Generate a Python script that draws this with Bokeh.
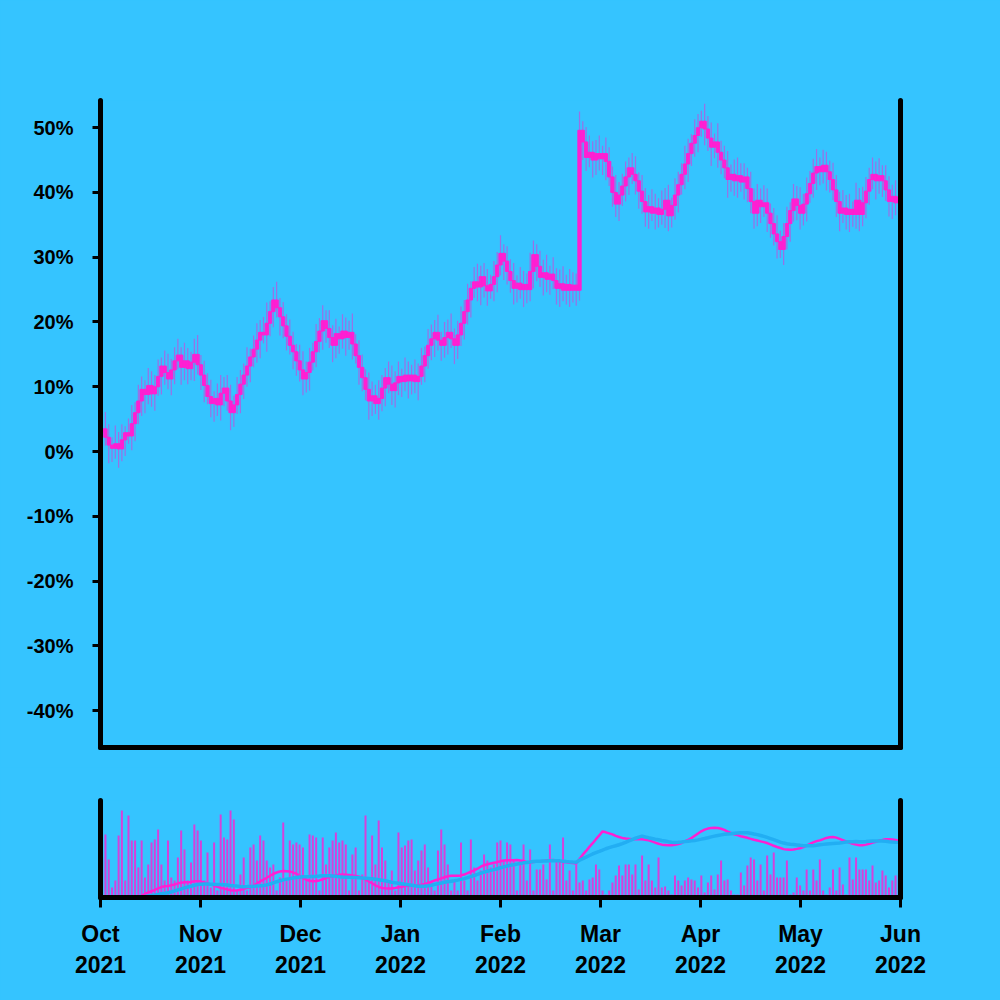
import pandas as pd
from bokeh.plotting import figure
from bokeh.models import Range1d, LinearAxis, FixedTicker, PrintfTickFormatter
from bokeh.layouts import column
from bokeh.embed import file_html
from bokeh.resources import INLINE

# ---------------- data ----------------
month_labels = ["Oct\n2021", "Nov\n2021", "Dec\n2021", "Jan\n2022", "Feb\n2022",
                "Mar\n2022", "Apr\n2022", "May\n2022", "Jun\n2022"]
y_ticks = [-40, -30, -20, -10, 0, 10, 20, 30, 40, 50]

first_open = 3.0
close = [
    3.5, 2.2, 1.0, 0.5, 1.2, 0.4, 1.8, 2.9, 2.4, 4.3,
    6.0, 7.8, 9.6, 8.8, 10.2, 8.9, 10.0, 11.6, 13.2, 12.2,
    11.2, 12.6, 14.0, 14.9, 13.0, 14.0, 12.8, 13.8, 15.0, 13.4,
    11.8, 10.2, 8.5, 7.4, 8.2, 7.2, 9.0, 9.8, 7.8, 6.0,
    7.2, 8.8, 10.4, 11.8, 13.2, 14.6, 15.8, 17.2, 18.4, 18.0,
    19.8, 21.6, 23.4, 22.2, 20.8, 19.4, 17.8, 16.4, 15.4, 14.0,
    12.6, 11.2, 12.2, 13.8, 15.4, 17.0, 18.6, 20.2, 19.0, 17.6,
    16.4, 18.2, 17.4, 18.6, 17.6, 18.4, 16.6, 14.8, 13.0, 11.4,
    9.6, 7.8, 8.6, 7.4, 8.2, 9.8, 11.4, 10.4, 9.4, 10.6,
    11.6, 10.8, 11.8, 10.9, 11.8, 10.8, 11.6, 13.2, 14.8, 16.4,
    17.4, 18.4, 17.2, 16.4, 17.6, 18.4, 17.4, 16.4, 18.0, 19.8,
    21.6, 23.4, 25.2, 26.2, 25.4, 27.0, 25.6, 24.8, 25.8, 27.0,
    28.8, 30.6, 29.4, 27.8, 26.4, 25.2, 26.0, 25.0, 25.8, 25.0,
    27.8, 30.4, 28.6, 26.9, 27.6, 26.6, 27.4, 26.4, 25.2, 25.9,
    24.9, 25.8, 24.9, 25.7, 24.9, 49.6, 47.8, 45.4, 46.2, 45.0,
    46.0, 45.2, 46.0, 44.8, 42.4, 40.0, 38.2, 39.6, 41.0, 42.4,
    43.8, 42.8, 41.8, 40.2, 38.6, 37.0, 37.8, 36.8, 37.6, 36.6,
    37.4, 38.8, 36.4, 38.0, 39.6, 41.2, 42.8, 44.4, 46.0, 47.6,
    48.8, 50.0, 51.0, 49.8, 48.4, 47.0, 47.8, 46.2, 45.0, 43.8,
    42.0, 42.8, 41.8, 42.6, 41.6, 42.4, 40.6, 38.6, 36.8, 38.8,
    37.8, 38.4, 36.8, 35.2, 33.6, 32.4, 31.2, 33.2, 35.2, 37.2,
    39.0, 38.0, 36.8, 38.2, 39.8, 41.4, 43.0, 44.0, 43.2, 44.2,
    43.2, 42.0, 40.4, 38.6, 36.8, 37.6, 36.6, 37.4, 36.6, 38.8,
    36.6, 38.4, 40.2, 42.0, 42.8, 41.8, 42.6, 41.8, 40.4, 38.6,
    39.4, 38.4, 39.2,
]

up_wick = [
    1.5, 2.6, 2.0, 1.2, 2.8, 1.8, 2.4, 1.0, 2.2, 2.9,
    1.6, 2.5, 2.0, 1.4, 2.7, 2.2, 1.8, 2.6, 1.3, 2.4,
    2.9, 1.7, 2.1, 2.5, 1.2, 2.8, 2.0, 1.6, 2.4, 3.0,
    1.5, 2.2, 1.9, 2.6, 1.1, 2.3, 2.8, 1.7, 2.0, 2.5,
    1.4, 2.7, 2.2, 1.8, 2.9, 1.3, 2.1, 2.6, 1.9, 2.4,
    3.2, 1.6, 2.0, 2.8, 1.5, 2.3, 1.8, 2.6, 2.1, 1.2,
    2.5, 2.9, 1.7, 2.2, 1.4, 2.7, 2.0, 2.4, 1.6, 2.8,
    1.9, 2.3, 1.1, 2.6, 2.1, 1.8, 2.9, 1.5, 2.4, 2.0,
    1.3, 2.6, 2.2, 1.7, 2.8, 2.0, 1.5, 2.5, 2.9, 1.8,
    2.3, 1.2, 2.7, 2.1, 1.6, 2.4, 2.0, 2.8, 1.4, 2.5,
    2.2, 1.9, 2.7, 1.3, 2.4, 2.0, 2.9, 1.6, 2.2, 2.6,
    1.8, 2.5, 1.1, 2.3, 2.8, 1.7, 2.1, 2.6, 1.5, 2.4,
    2.0, 2.8, 1.4, 2.3, 1.9, 2.7, 1.2, 2.5, 2.1, 1.7,
    2.9, 2.2, 1.6, 2.4, 2.0, 2.8, 1.3, 2.6, 1.9, 2.2,
    2.7, 1.5, 2.4, 2.0, 1.8, 2.9, 1.4, 2.3, 2.6, 1.7,
    2.1, 2.8, 1.2, 2.5, 2.2, 1.6, 2.7, 2.0, 1.9, 2.4,
    1.6, 2.3, 2.8, 1.3, 2.5, 2.1, 1.8, 2.7, 2.2, 1.5,
    2.9, 1.9, 2.4, 1.2, 2.6, 2.0, 1.7, 2.8, 2.3, 1.4,
    2.5, 2.1, 1.6, 2.7, 2.0, 2.4, 1.3, 2.9, 1.8, 2.2,
    2.6, 1.5, 2.3, 2.8, 1.9, 2.1, 1.4, 2.6, 2.0, 2.5,
    1.8, 2.7, 2.2, 1.5, 2.4, 2.9, 1.7, 2.1, 2.6, 1.3,
    2.3, 2.0, 2.8, 1.6, 2.5, 1.9, 2.2, 2.7, 1.4, 2.4,
    2.1, 1.7, 2.6, 2.3, 1.5, 2.8, 2.0, 2.4, 1.2, 2.7,
    1.9, 2.5, 2.2, 1.8, 2.6, 2.0, 2.7, 1.6, 2.4, 2.1,
    1.8, 2.5, 2.2,
]

down_wick = [
    2.4, 1.3, 2.8, 2.1, 1.6, 2.9, 1.9, 2.5, 1.2, 2.2,
    2.7, 1.8, 2.3, 2.9, 1.5, 2.0, 2.6, 1.4, 2.8, 1.9,
    1.6, 2.5, 2.2, 1.3, 2.7, 2.0, 2.4, 1.8, 2.9, 1.5,
    2.3, 2.6, 1.2, 2.1, 2.8, 1.7, 2.4, 2.0, 1.5, 2.7,
    2.2, 1.4, 2.9, 2.3, 1.8, 2.5, 1.6, 2.1, 2.8, 1.3,
    2.6, 2.0, 2.4, 1.5, 2.9, 1.9, 2.2, 1.4, 2.7, 2.3,
    1.8, 2.5, 2.1, 2.8, 1.3, 2.4, 1.7, 2.9, 2.2, 1.6,
    2.6, 2.0, 2.3, 1.5, 2.8, 1.9, 2.4, 1.2, 2.7, 2.1,
    1.7, 2.9, 2.3, 1.6, 2.5, 2.0, 2.8, 1.4, 2.2, 2.6,
    1.9, 2.4, 1.5, 2.7, 2.1, 1.8, 2.9, 1.3, 2.5, 2.0,
    2.3, 2.8, 1.6, 2.4, 1.9, 2.6, 1.4, 2.9, 2.1, 1.7,
    2.5, 2.0, 2.7, 1.5, 2.2, 2.8, 1.8, 2.3, 1.2, 2.6,
    2.4, 1.6, 2.9, 2.0, 1.9, 2.5, 2.2, 1.4, 2.7, 2.1,
    1.8, 2.6, 2.3, 1.5, 2.8, 2.0, 2.4, 1.3, 2.5, 2.9,
    1.7, 2.2, 2.6, 1.9, 2.4, 1.6, 2.8, 2.1, 1.5, 2.7,
    2.3, 1.8, 2.5, 2.9, 1.4, 2.2, 2.0, 2.6, 1.7, 2.4,
    2.8, 1.5, 2.1, 2.7, 1.9, 2.3, 2.6, 1.2, 2.5, 2.0,
    1.6, 2.9, 2.4, 1.8, 2.2, 2.7, 1.5, 2.3, 2.8, 1.9,
    2.1, 2.6, 1.4, 2.5, 2.0, 2.9, 1.7, 2.4, 2.2, 1.6,
    2.8, 1.9, 2.3, 2.6, 1.5, 2.7, 2.1, 1.8, 2.4, 2.0,
    2.5, 1.6, 2.9, 2.2, 1.8, 2.6, 1.3, 2.4, 2.0, 2.8,
    1.7, 2.3, 2.5, 1.9, 2.7, 1.4, 2.2, 2.6, 2.1, 1.8,
    2.9, 2.0, 1.6, 2.4, 2.8, 1.5, 2.3, 2.7, 1.9, 2.2,
    2.6, 1.8, 2.4, 2.1, 1.5, 2.9, 2.0, 2.5, 1.7, 2.3,
    2.7, 1.9, 2.4,
]

volume = [
    40, 63, 38, 10, 17, 62, 87, 17, 82, 57,
    57, 30, 57, 20, 33, 55, 58, 68, 33, 17,
    57, 20, 17, 40, 67, 48, 17, 35, 73, 67,
    57, 17, 45, 10, 55, 7, 83, 60, 58, 87,
    78, 7, 23, 40, 7, 50, 53, 37, 62, 57,
    37, 30, 33, 7, 20, 75, 17, 57, 53, 55,
    53, 50, 20, 63, 62, 60, 7, 60, 33, 50,
    57, 65, 55, 57, 53, 7, 43, 50, 7, 23,
    82, 17, 62, 33, 77, 50, 37, 17, 27, 7,
    65, 50, 52, 57, 58, 27, 37, 47, 53, 30,
    17, 7, 47, 68, 53, 33, 7, 17, 7, 55,
    17, 7, 58, 30, 17, 27, 43, 37, 30, 33,
    55, 57, 37, 55, 53, 37, 7,
    37, 53, 17, 48, 7, 28, 28, 33, 18, 53,
    7, 38, 37, 60, 17, 27, 7, 33, 15, 17,
    7, 18, 20, 33, 28, 7, 3, 7, 15, 22,
    32, 22, 33, 33, 23, 33, 8, 42, 17, 33,
    17, 10, 40, 10, 11, 7, 3, 22, 17, 12,
    17, 20, 18, 17, 10, 22, 5, 15, 22, 8,
    23, 37, 17, 18, 7, 3, 3, 25, 12, 32,
    40, 38, 17, 33, 7, 42, 23, 45, 20, 20,
    20, 37, 3, 5, 20, 12, 7, 28, 7, 28,
    17, 38, 7, 3, 10, 28, 7, 30, 13, 3,
    40, 18, 40, 28, 28, 28, 17, 32, 15, 17,
    27, 22, 10, 17, 22, 23,
]

n = len(close)
assert len(up_wick) == n and len(down_wick) == n and len(volume) == n, (
    n, len(up_wick), len(down_wick), len(volume))

# ---------------- derived ----------------
n_months = len(month_labels) - 1
step = n_months / n
xs = [(i + 0.5) * step for i in range(n)]
opens = [first_open] + close[:-1]
body_top = [max(o, c) for o, c in zip(opens, close)]
body_bot = [min(o, c) for o, c in zip(opens, close)]
high = [t + w for t, w in zip(body_top, up_wick)]
low = [b - w for b, w in zip(body_bot, down_wick)]
ma_fast = pd.Series(close).rolling(8, min_periods=1).mean().tolist()
ma_slow = pd.Series(close).rolling(20, min_periods=1).mean().tolist()

# ---------------- style ----------------
BG = "#35C4FF"
MAG = "#FF1FD2"
WICK = "#9A70E6"
BLUE = "#22AEF3"
FONT = "Liberation Sans"


def spine(ticks=None, **kw):
    ax = LinearAxis(ticker=FixedTicker(ticks=ticks or []), **kw)
    ax.axis_line_width = 5
    ax.axis_line_color = "black"
    ax.axis_line_cap = "round"
    ax.minor_tick_line_color = None
    ax.major_tick_line_color = "black"
    ax.major_tick_line_width = 3
    ax.major_tick_in = 0
    ax.major_label_text_font = FONT
    ax.major_label_text_font_style = "bold"
    ax.major_label_text_color = "black"
    return ax


x_range = Range1d(0, n_months)

p = figure(frame_width=800, frame_height=647, x_range=x_range,
           y_range=Range1d(-45.7, 54.2), output_backend="svg",
           toolbar_location=None, x_axis_location=None, y_axis_location=None,
           min_border_left=100, min_border_right=100, min_border_top=100,
           min_border_bottom=20, background_fill_color=BG,
           border_fill_color=BG, outline_line_color=None)
p.grid.visible = False

yax = spine(y_ticks, formatter=PrintfTickFormatter(format="%d%%"))
yax.major_tick_out = 8
yax.major_label_standoff = 19
yax.major_label_text_font_size = "20px"
p.add_layout(yax, "left")
p.add_layout(spine(), "right")
p.add_layout(spine(), "below")

p.segment(xs, high, xs, low, line_color=WICK, line_width=1.2)
p.vbar(x=xs, width=step, top=body_top, bottom=body_bot,
       fill_color=MAG, line_color=MAG, line_width=1)

q = figure(frame_width=800, frame_height=97, x_range=x_range,
           y_range=Range1d(0, 97), output_backend="svg",
           toolbar_location=None, x_axis_location=None, y_axis_location=None,
           min_border_left=100, min_border_right=100, min_border_top=33,
           min_border_bottom=103, background_fill_color=BG,
           border_fill_color=BG, outline_line_color=None)
q.grid.visible = False
q.extra_y_ranges = {"ma": Range1d(3.2, 66.6)}

xax = spine(list(range(len(month_labels))),
            major_label_overrides={i: lab for i, lab in enumerate(month_labels)})
xax.major_tick_out = 10
xax.major_label_standoff = 13
xax.major_label_text_font_size = "23px"
xax.major_label_text_line_height = 1.2
q.add_layout(xax, "below")
q.add_layout(spine(), "left")
q.add_layout(spine(), "right")

q.vbar(x=xs, width=step * 0.6, top=volume, bottom=0,
       fill_color=MAG, fill_alpha=0.8, line_color=None)
q.line(xs, ma_fast, y_range_name="ma", line_color=MAG, line_width=2.5)
q.line(xs, ma_slow, y_range_name="ma", line_color=BLUE, line_width=3.5)

layout = column(p, q, styles={"background-color": BG})
open("out.html", "w").write(file_html(layout, INLINE))
